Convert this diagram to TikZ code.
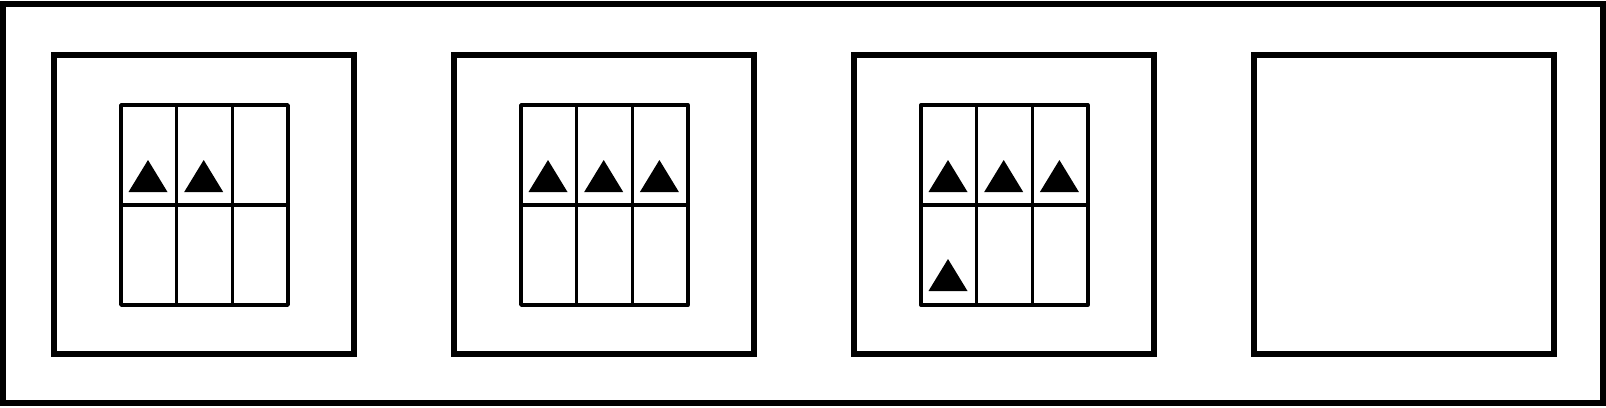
\documentclass[tikz,border=0pt]{standalone}

\tikzset{
  frame/.style={line width=0.12cm},
  gridline/.style={line width=0.07cm, line join=round},
  tri/.style={fill=black}
}

\begin{document}
\begin{tikzpicture}[x=0.02cm, y=-0.02cm]

\useasboundingbox (0,0) rectangle (1606,407);

% The outer frame round the whole row
\draw [frame] (3,4) rectangle (1603,403);

% Four panels, 400 apart
\foreach \i in {0,...,3} {
  \draw [frame] (54+400*\i,55) rectangle (354+400*\i,354);
}

% A 3x2 grid in each of the first three panels
\foreach \i in {0,1,2} {
  \begin{scope}[xshift=\i*8cm]
    \draw [gridline] (121,105) rectangle (288,305);
    \draw [gridline] (121,205) -- (288,205);
    \foreach \xc in {176.5, 232.5} {
      \draw [gridline] (\xc,105) -- (\xc,305);
    }
  \end{scope}
}

% Triangles: panel/column/row
\foreach \p/\c/\r in {
  0/0/0, 0/1/0,
  1/0/0, 1/1/0, 1/2/0,
  2/0/0, 2/1/0, 2/2/0, 2/0/1} {
  \fill [tri] ({128.5+400*\p+55.7*\c}, {192+99*\r}) -- ++(39,0) -- ++(-19.5,-32) -- cycle;
}

\end{tikzpicture}
\end{document}
